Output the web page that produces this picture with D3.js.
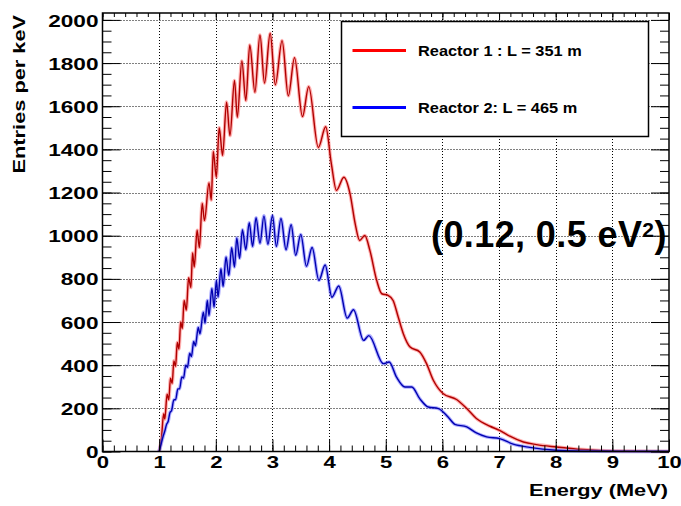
<!DOCTYPE html>
<html>
<head>
<meta charset="utf-8">
<script src="https://cdn.jsdelivr.net/npm/d3@7"></script>
<style>
  html, body { margin: 0; padding: 0; background: #fff; }
  svg text { font-family: "Liberation Sans", Arial, Helvetica, sans-serif; font-weight: bold; fill: #000; }
</style>
</head>
<body>
<script>
// Spectrum values (energy in MeV, entries per keV)
const energyR1 = [1.00, 1.04, 1.08, 1.10, 1.14, 1.17, 1.20, 1.23, 1.26, 1.29, 1.32, 1.35, 1.38, 1.41,
  1.44, 1.48, 1.52, 1.56, 1.59, 1.62, 1.67, 1.71, 1.76, 1.80, 1.88, 1.92, 1.955, 2.01, 2.06, 2.12,
  2.19, 2.25, 2.33, 2.38, 2.46, 2.53, 2.60, 2.69, 2.78, 2.86, 2.96, 3.05, 3.17, 3.28, 3.39, 3.53,
  3.64, 3.81, 3.94, 4.04, 4.13, 4.26, 4.37, 4.46, 4.54, 4.63, 4.72, 4.84, 4.93, 5.04, 5.13, 5.22,
  5.31, 5.43, 5.60, 5.72, 5.84, 6.01, 6.25, 6.43, 6.60, 6.84, 7.01, 7.19, 7.43, 7.66, 8.01, 8.48,
  9.01, 10.0];
const entriesR1 = [0, 60, 175, 150, 265, 240, 340, 315, 420, 395, 505, 475, 600, 570,
  700, 655, 805, 760, 920, 855, 1025, 945, 1150, 1070, 1245, 1165, 1390, 1271, 1500, 1372,
  1619, 1464, 1719, 1549, 1810, 1626, 1884, 1665, 1930, 1707, 1938, 1699, 1904, 1648, 1825, 1552,
  1691, 1409, 1505, 1333, 1210, 1271, 1194, 1056, 978, 1001, 932, 793, 731, 724, 700, 623,
  546, 484, 461, 407, 330, 269, 241, 199, 153, 117, 98, 71, 44, 32, 21, 9,
  2, 0];

const energyR2 = [1.00, 1.04, 1.07, 1.10, 1.13, 1.16, 1.19, 1.22, 1.26, 1.29, 1.33, 1.36, 1.40, 1.43,
  1.47, 1.50, 1.54, 1.57, 1.61, 1.64, 1.69, 1.72, 1.78, 1.81, 1.85, 1.88, 1.93, 1.97, 2.01, 2.04,
  2.09, 2.13, 2.18, 2.23, 2.28, 2.33, 2.37, 2.42, 2.47, 2.53, 2.59, 2.65, 2.71, 2.78, 2.85, 2.92,
  3.00, 3.07, 3.15, 3.24, 3.33, 3.41, 3.50, 3.60, 3.70, 3.82, 3.93, 4.05, 4.17, 4.32, 4.43, 4.61,
  4.70, 4.96, 5.06, 5.19, 5.34, 5.46, 5.60, 5.75, 5.93, 6.10, 6.22, 6.43, 6.60, 6.78, 7.01, 7.25,
  7.54, 8.01, 8.70, 10.0];
const entriesR2 = [0, 40, 70, 95, 125, 140, 180, 190, 240, 240, 290, 290, 345, 340,
  400, 390, 455, 440, 510, 490, 575, 545, 646, 595, 700, 630, 755, 669, 793, 716,
  847, 765, 901, 816, 944, 855, 990, 895, 1028, 935, 1060, 950, 1083, 965, 1092, 960,
  1094, 950, 1080, 935, 1051, 909, 1006, 858, 945, 793, 864, 715, 767, 618, 657, 515,
  537, 407, 415, 345, 299, 299, 245, 206, 199, 160, 126, 114, 86, 68, 60, 34,
  19, 6, 1, 0];

const xTicks = [0, 1, 2, 3, 4, 5, 6, 7, 8, 9, 10];
const yTicks = [0, 200, 400, 600, 800, 1000, 1200, 1400, 1600, 1800, 2000];
const legendLabels = ["Reactor 1 : L = 351 m", "Reactor 2: L = 465 m"];

(function() {
  const W = 681, H = 506;
  const left = 102.5, right = 669, top = 13, bottom = 451.5;

  const svg = d3.select("body").append("svg")
    .attr("width", W)
    .attr("height", H);

  const x = d3.scaleLinear().domain([0, 10]).range([left, right]);
  const y = d3.scaleLinear().domain([0, 2032]).range([bottom, top]);

  // widen text horizontally, the original font is broader than Helvetica
  function stretch(sel, k) {
    sel.each(function() {
      const w = this.getComputedTextLength();
      d3.select(this).attr("textLength", w * k).attr("lengthAdjust", "spacingAndGlyphs");
    });
  }

  // dotted grid
  const grid = svg.append("g").attr("stroke", "#000").attr("stroke-width", 1)
    .attr("stroke-dasharray", "1,2");
  grid.selectAll(".gx").data(xTicks.slice(1, -1)).join("line")
    .attr("x1", d => Math.round(x(d)) + 0.5).attr("x2", d => Math.round(x(d)) + 0.5)
    .attr("y1", top).attr("y2", bottom);
  grid.selectAll(".gy").data(yTicks.slice(1)).join("line")
    .attr("x1", left).attr("x2", right)
    .attr("y1", d => Math.round(y(d)) + 0.5).attr("y2", d => Math.round(y(d)) + 0.5);

  // curves: light halo (markers) under a dark line
  const line = d3.line().curve(d3.curveMonotoneX);
  const series = [
    { e: energyR1, v: entriesR1, halo: "#ff7070", dark: "#b00000" },
    { e: energyR2, v: entriesR2, halo: "#7070ff", dark: "#0000b0" }
  ];
  series.forEach(s => {
    const pts = s.e.map((e, i) => [x(e), y(s.v[i])]);
    svg.append("path").attr("d", line(pts)).attr("fill", "none")
      .attr("stroke", s.halo).attr("stroke-opacity", 0.55).attr("stroke-width", 3.5);
    svg.append("path").attr("d", line(pts)).attr("fill", "none")
      .attr("stroke", s.dark).attr("stroke-width", 1.4);
  });

  // axes
  const xMinor = d3.range(0, 10.001, 0.2);
  const yMinor = d3.range(0, 2001, 50);

  svg.append("g").attr("transform", `translate(0,${bottom})`)
    .call(d3.axisBottom(x).tickValues(xMinor).tickSizeInner(-6).tickSizeOuter(0).tickFormat(""));
  const xAx = svg.append("g").attr("transform", `translate(0,${bottom})`)
    .call(d3.axisBottom(x).tickValues(xTicks).tickSizeInner(-12).tickSizeOuter(0).tickPadding(4)
      .tickFormat(d3.format("d")));
  svg.append("g").attr("transform", `translate(0,${top})`)
    .call(d3.axisTop(x).tickValues(xMinor).tickSizeInner(-4).tickSizeOuter(0).tickFormat(""));
  svg.append("g").attr("transform", `translate(0,${top})`)
    .call(d3.axisTop(x).tickValues(xTicks).tickSizeInner(-7).tickSizeOuter(0).tickFormat(""));

  svg.append("g").attr("transform", `translate(${left},0)`)
    .call(d3.axisLeft(y).tickValues(yMinor).tickSizeInner(-9).tickSizeOuter(0).tickFormat(""));
  const yAx = svg.append("g").attr("transform", `translate(${left},0)`)
    .call(d3.axisLeft(y).tickValues(yTicks).tickSizeInner(-18).tickSizeOuter(0).tickPadding(4)
      .tickFormat(d3.format("d")));
  svg.append("g").attr("transform", `translate(${right},0)`)
    .call(d3.axisRight(y).tickValues(yMinor).tickSizeInner(-9).tickSizeOuter(0).tickFormat(""));
  svg.append("g").attr("transform", `translate(${right},0)`)
    .call(d3.axisRight(y).tickValues(yTicks).tickSizeInner(-18).tickSizeOuter(0).tickFormat(""));

  svg.selectAll(".domain").remove();
  svg.selectAll(".tick line").attr("stroke", "#000").attr("stroke-width", 1);

  xAx.selectAll("text").attr("font-size", 17).attr("dy", "0.72em")
    .style("font-family", "'Liberation Sans', Arial, sans-serif").style("font-weight", "bold")
    .call(stretch, 1.3);
  yAx.selectAll("text").attr("font-size", 17).attr("dy", "0.36em")
    .style("font-family", "'Liberation Sans', Arial, sans-serif").style("font-weight", "bold")
    .call(stretch, 1.33);

  // frame
  svg.append("rect")
    .attr("x", left).attr("y", top)
    .attr("width", right - left).attr("height", bottom - top)
    .attr("fill", "none").attr("stroke", "#000").attr("stroke-width", 1.5);

  // axis titles
  svg.append("text")
    .attr("x", 668).attr("y", 496)
    .attr("text-anchor", "end")
    .attr("font-size", 17)
    .text("Energy (MeV)")
    .call(stretch, 1.28);

  svg.append("text")
    .attr("transform", "translate(25,15) rotate(-90)")
    .attr("text-anchor", "end")
    .attr("font-size", 17)
    .text("Entries per keV")
    .call(stretch, 1.28);

  // legend box
  const lg = svg.append("g");
  lg.append("rect")
    .attr("x", 341.5).attr("y", 21.5).attr("width", 307).attr("height", 115)
    .attr("fill", "#fff").attr("stroke", "#000").attr("stroke-width", 1.5);
  const legendColors = ["#ff0000", "#0000ff"];
  const legendY = [50.5, 107.5];
  legendLabels.forEach((lab, i) => {
    lg.append("line")
      .attr("x1", 352.5).attr("x2", 406)
      .attr("y1", legendY[i]).attr("y2", legendY[i])
      .attr("stroke", legendColors[i]).attr("stroke-width", 3);
    lg.append("text")
      .attr("x", 418).attr("y", legendY[i] + 5.5)
      .attr("font-size", 15)
      .text(lab)
      .call(stretch, 1.09);
  });

  // parameter annotation
  const ann = svg.append("text")
    .attr("x", 431).attr("y", 247)
    .attr("font-size", 36)
    .attr("letter-spacing", 0.4);
  ann.append("tspan").text("(0.12, 0.5 eV");
  ann.append("tspan").attr("font-size", 21).attr("dy", -10).text("2");
  ann.append("tspan").attr("dy", 10).text(")");
})();
</script>
</body>
</html>
